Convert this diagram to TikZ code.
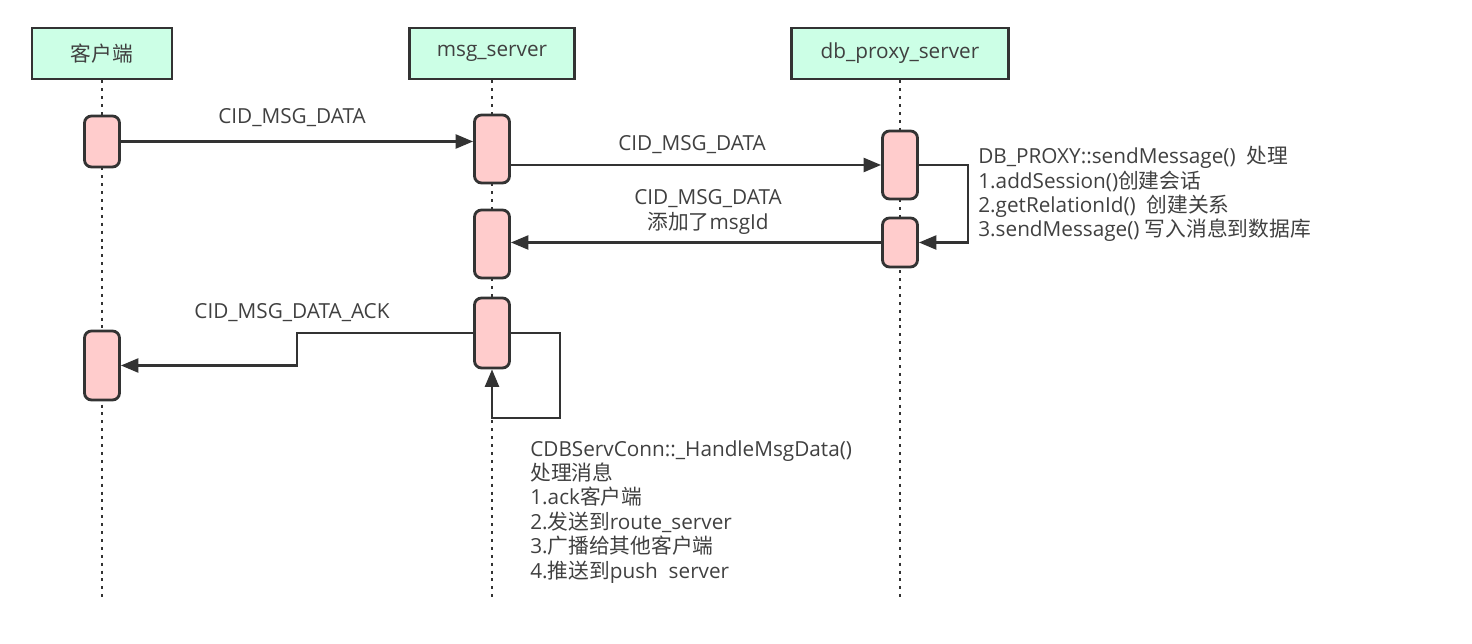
\documentclass[tikz,border=0pt]{standalone}
\usepackage{fontspec}
\usepackage{tikz}
\usetikzlibrary{arrows.meta, positioning, calc}
\setmainfont{Open Sans}
\newfontfamily\cjk{Noto Sans CJK SC}
\newcommand{\zh}[1]{{\cjk #1}}
\definecolor{seqline}{HTML}{333333}
\definecolor{seqtext}{HTML}{404040}
\definecolor{seqgreen}{HTML}{CCFFE6}
\definecolor{seqpink}{HTML}{FFCCCC}

\begin{document}
\begin{tikzpicture}[
    x=0.02cm, y=-0.02cm,
    actor/.style={rectangle, draw=seqline, fill=seqgreen, line width=1.6pt, minimum height=1.02cm, text=seqtext, font=\fontsize{11.8}{14}\selectfont},
    activation/.style={rectangle, draw=seqline, fill=seqpink, line width=1.6pt, rounded corners=4pt, minimum width=0.7cm, inner sep=0pt},
    lifeline/.style={dash pattern=on 1.7pt off 2.8pt, line width=1.7pt, draw=seqline},
    arrow/.style={-{Triangle[length=10pt, width=8pt]}, line width=1.4pt, draw=seqline},
    msglabel/.style={text=seqtext, align=center, font=\fontsize{11.8}{14}\selectfont},
    note/.style={text=seqtext, align=left, anchor=north west, inner sep=0pt, font=\fontsize{11.8}{13.9}\selectfont}
]
\useasboundingbox (0,0) rectangle (1472,644);

% participants
\node[actor, minimum width=2.8cm] (client) at (102,53.5) {\zh{客户端}};
\node[actor, minimum width=3.3cm] (msg) at (492,53.5) {msg\_server};
\node[actor, minimum width=4.34cm] (db) at (900,53.5) {db\_proxy\_server};

\draw[lifeline] (client.south) -- (client.south |- 0,602);
\draw[lifeline] (msg.south) -- (msg.south |- 0,602);
\draw[lifeline] (db.south) -- (db.south |- 0,602);

% activations
\node[activation, minimum height=1.02cm] (c1) at (102,141.5) {};
\node[activation, minimum height=1.38cm] (c2) at (102,365.5) {};
\node[activation, minimum height=1.36cm] (m1) at (492,149) {};
\node[activation, minimum height=1.36cm] (m2) at (492,244) {};
\node[activation, minimum height=1.40cm] (m3) at (492,333) {};
\node[activation, minimum height=1.36cm] (d1) at (900,165) {};
\node[activation, minimum height=0.98cm] (d2) at (900,242.5) {};

% messages
\draw[arrow] (c1.east) -- (c1.east -| m1.west);
\node[msglabel] (l1) at (292,118) {CID\_MSG\_DATA};

\draw[arrow] (d1.west -| m1.east) -- (d1.west);
\node[msglabel] (l2) at (692,145) {CID\_MSG\_DATA};

\draw[arrow] (d1.east) -- ++(49,0) |- (d2.east);
\node[note] (dbnote) at (978,146) {DB\_PROXY::sendMessage()\ \ \zh{处理}\\1.addSession()\zh{创建会话}\\2.getRelationId()\ \ \zh{创建关系}\\3.sendMessage() \zh{写入消息到数据库}};

\draw[arrow] (d2.west) -- (d2.west -| m2.east);
\node[msglabel] (l3) at (708,212) {CID\_MSG\_DATA\\\zh{添加了}msgId};

\draw[arrow] (m3.west) -| ($(m3.west)!.5!(c2.east)$) |- (c2.east);
\node[msglabel] (l4) at (292,313) {CID\_MSG\_DATA\_ACK};

\coordinate (loop) at (560,418);
\draw[arrow] (m3.east) -| (loop) -| (m3.south);
\node[note] (msgnote) at (530,440) {CDBServConn::\_HandleMsgData()\\\zh{处理消息}\\1.ack\zh{客户端}\\2.\zh{发送到}route\_server\\3.\zh{广播给其他客户端}\\4.\zh{推送到}push\ \ server};

\end{tikzpicture}
\end{document}
